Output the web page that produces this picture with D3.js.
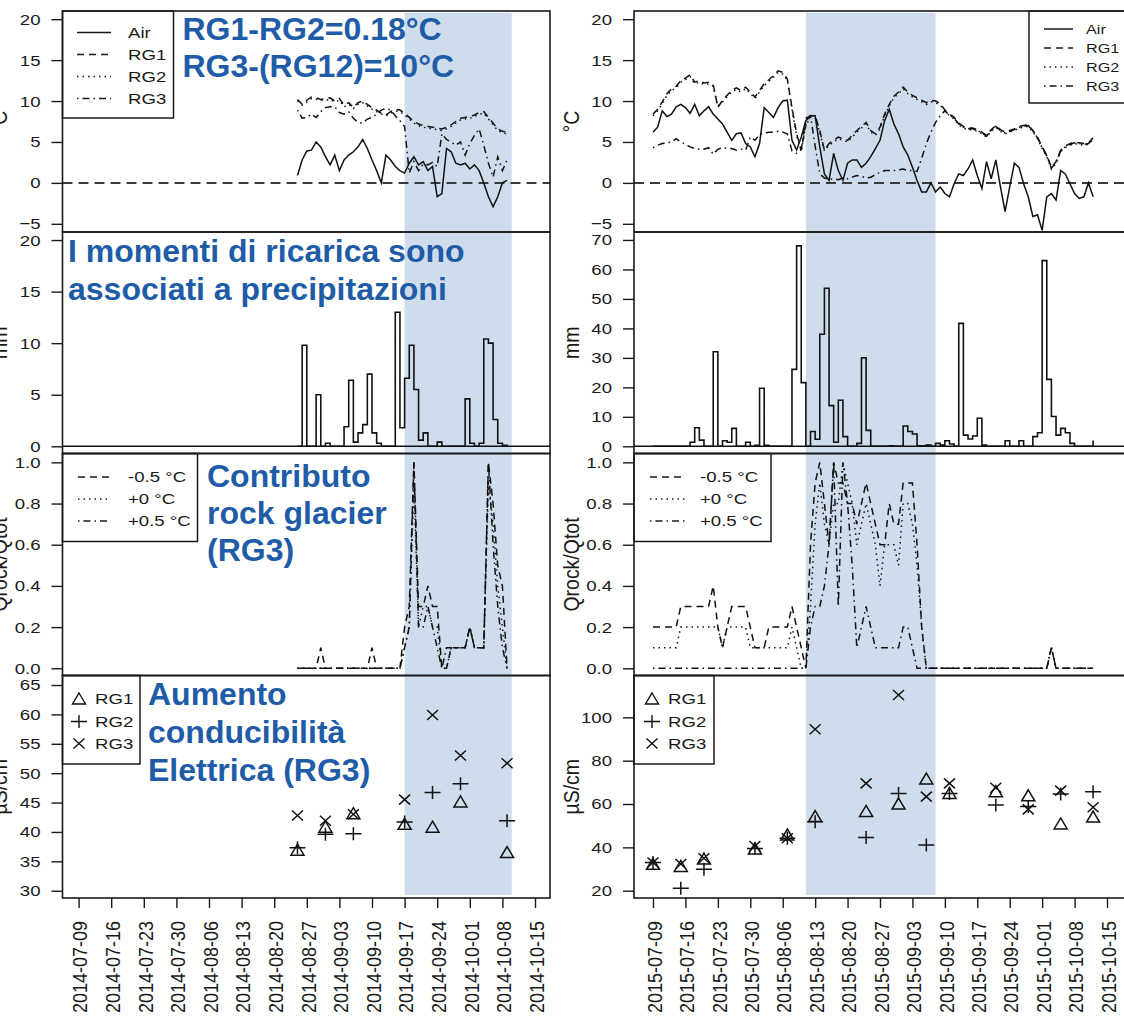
<!DOCTYPE html>
<html>
<head>
<meta charset="utf-8">
<script src="https://cdn.jsdelivr.net/npm/d3@7"></script>
<style>
  body { margin: 0; background: #fff; }
  svg { display: block; font-family: "Liberation Sans", Arial, sans-serif; }
</style>
</head>
<body>
<div id="chart"></div>
<script>
// ---------------- data ----------------
const xTicks2014 = ['2014-07-09', '2014-07-16', '2014-07-23', '2014-07-30', '2014-08-06', '2014-08-13', '2014-08-20',
  '2014-08-27', '2014-09-03', '2014-09-10', '2014-09-17', '2014-09-24', '2014-10-01', '2014-10-08', '2014-10-15'];
const xTicks2015 = ['2015-07-09', '2015-07-16', '2015-07-23', '2015-07-30', '2015-08-06', '2015-08-13', '2015-08-20',
  '2015-08-27', '2015-09-03', '2015-09-10', '2015-09-17', '2015-09-24', '2015-10-01', '2015-10-08', '2015-10-15'];

// daily series start dates
const start2014 = '2014-08-25';
const start2015 = '2015-07-09';

// shaded recharge period
const shade2014 = ['2014-09-17', '2014-10-10'];
const shade2015 = ['2015-08-11', '2015-09-08'];

// temperature, °C
const air2014 = [0.9, 2.8, 3.9, 4.0, 5.0, 4.4, 3.2, 2.2, 3.4, 1.5,
  2.8, 3.4, 3.8, 4.4, 5.3, 4.2, 2.8, 1.5, 0.0, 3.4,
  2.8, 2.0, 1.5, 1.2, 2.4, 3.2, 2.2, 2.6, 1.5, 2.0,
  -1.7, -1.3, 4.2, 3.8, 2.4, 2.2, 2.4, 1.7, 2.2, 1.5,
  0.0, -1.7, -2.9, -1.7, 0.0, 0.3];
const rg1T2014 = [10.2, 9.6, 10.1, 10.5, 10.4, 10.2, 10.3, 10.4, 10.0, 10.3,
  9.5, 9.8, 9.2, 9.8, 10.0, 9.6, 9.2, 8.9, 8.5, 8.3,
  8.7, 9.0, 8.9, 8.5, 8.0, 7.5, 7.2, 7.0, 6.9, 6.8,
  6.7, 6.6, 6.8, 7.1, 7.5, 7.9, 8.0, 8.1, 8.3, 8.6,
  8.7, 8.0, 7.3, 6.6, 6.3, 6.2];
const rg2T2014 = [10.0, 9.5, 9.9, 10.3, 10.2, 10.1, 10.1, 10.2, 9.9, 10.1,
  9.3, 9.6, 9.1, 9.6, 9.8, 9.4, 9.0, 8.7, 8.4, 8.2,
  8.5, 8.8, 8.7, 8.3, 7.8, 7.3, 7.0, 6.8, 6.7, 6.6,
  6.5, 6.4, 6.6, 6.9, 7.3, 7.7, 7.8, 7.9, 8.1, 8.4,
  8.5, 7.8, 7.1, 6.4, 6.1, 6.0];
const rg3T2014 = [8.9, 7.9, 8.0, 8.4, 8.0, 8.7, 9.2, 9.3, 9.3, 8.6,
  8.4, 8.7, 7.9, 7.4, 7.3, 7.8, 8.0, 8.4, 8.9, 9.1,
  8.9, 8.2, 7.6, 6.9, 1.2, 2.6, 1.5, 2.3, 2.2, 2.5,
  2.0, 6.0, 5.3, 5.0, 4.6, 5.0, 3.4, 4.8, 5.8, 6.6,
  4.6, 2.4, 0.7, 3.2, 1.5, 2.8];

const air2015 = [6.2, 6.8, 8.8, 8.1, 8.4, 9.3, 9.6, 9.2, 8.5, 9.6,
  8.2, 8.8, 9.3, 8.4, 7.8, 7.2, 6.2, 5.2, 6.0, 6.1,
  4.8, 4.4, 3.2, 4.8, 9.2, 8.6, 8.0, 9.2, 10.0, 10.1,
  5.2, 4.0, 5.6, 7.6, 8.2, 8.2, 4.4, 1.1, 0.3, 3.6,
  1.5, 0.3, 2.4, 2.8, 2.8, 1.9, 2.4, 3.2, 4.2, 5.2,
  7.6, 9.0, 7.2, 6.0, 4.4, 3.4, 1.9, 0.3, -1.1, -1.1,
  0.0, -1.1, -0.5, -1.3, -1.7, -0.1, 1.1, 0.9, 1.7, 2.8,
  0.9, -0.7, 2.6, 0.5, 2.8, -0.5, -3.5, -0.5, 2.4, 1.9,
  -0.1, -1.7, -4.1, -3.9, -5.8, -1.7, -1.3, -2.1, 1.5, 1.1,
  -0.1, -1.3, -1.9, -1.7, 0.0, -1.7];
const rg1T2015 = [8.4, 9.0, 9.9, 10.9, 11.5, 11.8, 12.5, 12.8, 13.2, 12.3,
  12.5, 12.2, 12.3, 12.0, 9.2, 10.1, 10.7, 11.3, 11.6, 11.3,
  11.7, 11.1, 10.5, 11.3, 12.1, 12.6, 13.1, 13.7, 13.5, 12.7,
  9.2, 6.0, 4.0, 7.2, 8.2, 8.2, 6.4, 4.0, 4.8, 5.2,
  5.6, 5.4, 5.2, 5.8, 6.4, 6.9, 7.4, 6.4, 6.0, 6.8,
  8.4, 9.6, 10.6, 11.1, 11.7, 11.1, 10.7, 10.4, 10.1, 9.8,
  10.1, 10.0, 9.7, 8.9, 8.4, 8.0, 7.3, 6.9, 6.7, 6.7,
  6.5, 6.2, 5.8, 6.5, 7.0, 6.5, 6.2, 6.4, 6.6, 6.9,
  7.0, 7.1, 6.4, 5.6, 4.4, 3.4, 1.9, 2.6, 4.0, 4.5,
  4.8, 5.0, 4.9, 4.8, 4.9, 5.5];
const rg2T2015 = [8.2, 8.8, 9.7, 10.7, 11.3, 11.6, 12.3, 12.6, 13.0, 12.1,
  12.3, 12.0, 12.1, 11.8, 9.4, 9.9, 10.5, 11.1, 11.4, 11.1,
  11.5, 10.9, 10.3, 11.1, 11.9, 12.4, 12.9, 13.5, 13.3, 12.5,
  9.0, 5.8, 3.9, 7.0, 8.0, 8.0, 6.2, 3.9, 4.6, 5.0,
  5.4, 5.2, 5.0, 5.6, 6.2, 6.7, 7.2, 6.2, 5.8, 6.6,
  8.2, 9.4, 10.4, 10.9, 11.5, 10.9, 10.5, 10.2, 9.9, 9.6,
  9.9, 9.8, 9.5, 8.8, 8.2, 7.8, 7.1, 6.7, 6.5, 6.5,
  6.3, 6.0, 5.6, 6.3, 6.8, 6.3, 6.0, 6.2, 6.4, 6.7,
  6.8, 6.9, 6.2, 5.4, 4.2, 3.2, 1.7, 2.4, 3.8, 4.3,
  4.6, 4.8, 4.7, 4.6, 4.7, 5.3];
const rg3T2015 = [4.3, 4.6, 4.8, 4.9, 5.0, 5.4, 5.0, 4.7, 4.4, 4.2,
  4.1, 4.1, 4.3, 3.5, 4.1, 4.3, 4.2, 4.2, 4.0, 4.1,
  4.0, 5.6, 5.2, 5.9, 6.1, 6.2, 6.2, 6.3, 6.2, 6.0,
  3.9, 3.6, 4.1, 7.9, 8.2, 4.5, 1.1, 0.6, 0.4, 0.5,
  0.4, 0.6, 0.5, 0.7, 0.9, 0.8, 0.6, 0.7, 1.0, 1.3,
  1.5, 1.5, 1.5, 1.6, 1.7, 1.5, 1.5, 1.4, 3.0, 4.8,
  6.2, 7.4, 8.2, 8.8, 8.3, 7.9, 7.2, 6.8, 6.6, 6.6,
  6.4, 6.1, 5.7, 6.4, 6.9, 6.4, 6.1, 6.3, 6.5, 6.8,
  6.9, 7.0, 6.3, 5.5, 4.3, 3.3, 1.8, 2.5, 3.9, 4.4,
  4.7, 4.9, 4.8, 4.7, 4.8, 5.4];

// precipitation, mm
const rain2014 = [0, 9.8, 0, 0, 5.0, 0, 0.3, 0, 0, 0,
  1.9, 6.4, 0.4, 1.3, 2.1, 7.0, 1.3, 0.3, 0, 0,
  0, 13.0, 1.8, 6.6, 9.8, 5.5, 0.6, 1.3, 0, 0,
  0.4, 0, 0, 0, 0, 0, 4.6, 0.3, 0, 0.3,
  10.4, 10.0, 2.6, 0.3, 0.1, 0];
const rain2015 = [0, 0, 0, 0, 0, 0, 0, 0, 1.4, 6.3,
  2.1, 0, 0, 32.1, 0, 1.9, 1.4, 6.1, 0, 0,
  1.4, 0, 0.3, 19.7, 0.3, 0, 0, 0, 0, 0,
  26.1, 68.0, 21.6, 0, 5.0, 2.4, 38.0, 53.6, 13.8, 1.4,
  15.6, 3.3, 0, 0, 1.0, 30.0, 5.4, 0, 0, 0,
  0, 0.2, 0, 0, 6.9, 5.0, 4.2, 0.2, 0.2, 0.4,
  0, 1.0, 0.4, 1.9, 0.8, 0, 41.7, 3.8, 2.5, 3.5,
  9.5, 0.4, 0, 0, 0, 0, 1.9, 0, 0, 1.9,
  0, 0, 3.3, 4.6, 63.0, 22.7, 10.1, 3.8, 6.1, 4.6,
  1.0, 0, 0, 0, 0, 2.0];

// Qrock/Qtot for the three temperature thresholds
const qMinus2014 = [0, 0, 0, 0, 0, 0.1, 0, 0, 0, 0,
  0, 0, 0, 0, 0, 0, 0.1, 0, 0, 0,
  0, 0, 0, 0.2, 0.3, 1.0, 0.3, 0.3, 0.4, 0.3,
  0.3, 0, 0, 0.1, 0.1, 0.1, 0.1, 0.2, 0.1, 0.1,
  0.1, 1.0, 0.8, 0.5, 0.4, 0];
const qZero2014 = [0, 0, 0, 0, 0, 0, 0, 0, 0, 0,
  0, 0, 0, 0, 0, 0, 0, 0, 0, 0,
  0, 0, 0, 0.1, 0.2, 0.9, 0.2, 0.3, 0.3, 0.2,
  0.2, 0, 0, 0.1, 0.1, 0.1, 0.1, 0.2, 0.1, 0.1,
  0.1, 0.9, 0.7, 0.4, 0.2, 0];
const qPlus2014 = [0, 0, 0, 0, 0, 0, 0, 0, 0, 0,
  0, 0, 0, 0, 0, 0, 0, 0, 0, 0,
  0, 0, 0, 0.1, 0.2, 1.0, 0.2, 0.2, 0.3, 0.2,
  0.1, 0, 0.1, 0.1, 0.1, 0.1, 0.1, 0.2, 0.1, 0.1,
  0.1, 1.0, 0.6, 0.3, 0.1, 0];

const qMinus2015 = [0.2, 0.2, 0.2, 0.2, 0.2, 0.2, 0.3, 0.3, 0.3, 0.3,
  0.3, 0.3, 0.3, 0.4, 0.2, 0.1, 0.2, 0.3, 0.3, 0.3,
  0.3, 0.2, 0.1, 0.1, 0.1, 0.2, 0.2, 0.2, 0.2, 0.2,
  0.3, 0.2, 0.1, 0.0, 0.6, 0.9, 1.0, 0.8, 0.6, 1.0,
  0.9, 0.9, 0.8, 0.8, 0.7, 0.8, 0.9, 0.8, 0.7, 0.6,
  0.6, 0.8, 0.7, 0.7, 0.9, 0.9, 0.9, 0.6, 0.2, 0,
  0, 0, 0, 0, 0, 0, 0, 0, 0, 0,
  0, 0, 0, 0, 0, 0, 0, 0, 0, 0,
  0, 0, 0, 0, 0, 0, 0.1, 0, 0, 0,
  0, 0, 0, 0, 0, 0];
const qZero2015 = [0.1, 0.1, 0.1, 0.1, 0.1, 0.1, 0.2, 0.2, 0.2, 0.2,
  0.2, 0.2, 0.2, 0.2, 0.2, 0.1, 0.2, 0.2, 0.2, 0.2,
  0.2, 0.1, 0.1, 0.1, 0.1, 0.1, 0.1, 0.1, 0.1, 0.1,
  0.2, 0.1, 0.0, 0.0, 0.3, 0.7, 0.9, 0.7, 0.6, 0.8,
  0.8, 1.0, 0.9, 0.8, 0.6, 0.7, 0.8, 0.7, 0.6, 0.4,
  0.6, 0.6, 0.6, 0.5, 0.8, 0.8, 0.7, 0.5, 0.2, 0,
  0, 0, 0, 0, 0, 0, 0, 0, 0, 0,
  0, 0, 0, 0, 0, 0, 0, 0, 0, 0,
  0, 0, 0, 0, 0, 0, 0.1, 0, 0, 0,
  0, 0, 0, 0, 0, 0];
const qPlus2015 = [0, 0, 0, 0, 0, 0, 0, 0, 0, 0,
  0, 0, 0, 0, 0, 0, 0, 0, 0, 0,
  0, 0, 0, 0, 0, 0, 0, 0, 0, 0,
  0, 0, 0, 0, 0.2, 0.3, 0.3, 0.4, 0.6, 1.0,
  0.3, 1.0, 0.8, 0.5, 0.1, 0.2, 0.3, 0.2, 0.1, 0.1,
  0.1, 0.1, 0.1, 0.1, 0.2, 0.2, 0.1, 0, 0, 0,
  0, 0, 0, 0, 0, 0, 0, 0, 0, 0,
  0, 0, 0, 0, 0, 0, 0, 0, 0, 0,
  0, 0, 0, 0, 0, 0, 0.1, 0, 0, 0,
  0, 0, 0, 0, 0, 0];

// electrical conductivity, µS/cm
const ecDates2014 = ['2014-08-25', '2014-08-31', '2014-09-06', '2014-09-17', '2014-09-23', '2014-09-29', '2014-10-09'];
const ecRG1_2014 = [36.9, 40.8, 43.1, 41.3, 40.8, 45.1, 36.5];
const ecRG2_2014 = [37.3, 39.6, 39.7, 41.7, 46.7, 48.2, 41.9];
const ecRG3_2014 = [42.8, 41.9, 43.0, 45.5, 59.9, 53.0, 51.7];

const ecDates2015 = ['2015-07-09', '2015-07-15', '2015-07-20', '2015-07-31', '2015-08-07', '2015-08-13', '2015-08-24',
  '2015-08-31', '2015-09-06', '2015-09-11', '2015-09-21', '2015-09-28', '2015-10-05', '2015-10-12'];
const ecRG1_2015 = [32.2, 31.2, 34.6, 39.2, 45.7, 54.2, 56.6, 60.0, 71.5, 64.9, 65.7, 63.8, 50.8, 54.0];
const ecRG2_2015 = [33.0, 21.1, 29.9, 39.5, 44.2, 51.8, 44.5, 64.9, 41.1, 64.9, 59.5, 58.8, 64.6, 65.7];
const ecRG3_2015 = [33.0, 32.3, 35.0, 40.6, 44.2, 94.5, 69.5, 110.3, 63.4, 69.5, 67.5, 57.5, 66.2, 58.5];

const tempLabels = ['Air', 'RG1', 'RG2', 'RG3'];
const qLabels = ['-0.5 °C', '+0 °C', '+0.5 °C'];
const ecLabels = ['RG1', 'RG2', 'RG3'];

// blue notes pasted over the figure
const notes = [
  ['RG1-RG2=0.18°C', 182.5, 39.5],
  ['RG3-(RG12)=10°C', 182.5, 76.5],
  ['I momenti di ricarica sono', 68, 262],
  ['associati a precipitazioni', 68, 300],
  ['Contributo', 207, 486.5],
  ['rock glacier', 207, 524],
  ['(RG3)', 207, 561],
  ['Aumento', 148, 705],
  ['conducibilità', 148, 743],
  ['Elettrica (RG3)', 148, 781]
];

// ---------------- layout ----------------
const WIDTH = 1124, HEIGHT = 1022;
const K = 1.2;            // the R figure is stretched sideways
const INK = '#1a1a1a';
const BLUE = '#1f5ca8';
const SHADE = '#cfdcec';
const ROWS = [[11, 232], [232, 453.5], [453.5, 675.5], [675.5, 898]];
const DASH = { solid: null, dashed: '7,5', dotted: '1.5,4', dashdot: '1.5,4,7,4' };
const TEMP_DASH = ['solid', 'dashed', 'dotted', 'dashdot'];
const Q_DASH = ['dashed', 'dotted', 'dashdot'];
const MARK = {
  tri: 'M0,-6L6.5,5L-6.5,5Z',
  plus: 'M-8,0H8M0,-6.5V6.5',
  cross: 'M-5.5,-5L5.5,5M-5.5,5L5.5,-5'
};
const EC_MARKS = ['tri', 'plus', 'cross'];

const parse = d3.utcParse('%Y-%m-%d');
const daily = (start, values) => values.map((v, i) => ({ date: d3.utcDay.offset(parse(start), i), v }));

const COLUMNS = [
  {
    left: 62.5, right: 550, tickPx: [78.6, 535], ticks: xTicks2014, start: start2014, shade: shade2014,
    temp: [air2014, rg1T2014, rg2T2014, rg3T2014],
    rain: rain2014, rainDomain: [-0.7, 20.78], rainTicks: [0, 5, 10, 15, 20],
    q: [qMinus2014, qZero2014, qPlus2014],
    ecDates: ecDates2014, ec: [ecRG1_2014, ecRG2_2014, ecRG3_2014],
    ecDomain: [28.76, 66.62], ecTicks: [30, 35, 40, 45, 50, 55, 60, 65],
    tempLegend: { x: 62.5, y: 11, w: 111, h: 107, line: [77, 111], textX: 128, rows: [32.5, 54.5, 76.5, 98.5], size: 15.5 },
    qLegend: { x: 62.5, y: 453.5, w: 135, h: 88, line: [78, 111], textX: 128, rows: [477, 499, 521], size: 15.5 },
    ecLegend: { x: 62.5, y: 675.5, w: 77.5, h: 88.5, mark: 79, textX: 95, rows: [699, 721.5, 743.5], size: 15.5 }
  },
  {
    left: 634, right: 1125, tickPx: [653, 1107], ticks: xTicks2015, start: start2015, shade: shade2015,
    temp: [air2015, rg1T2015, rg2T2015, rg3T2015],
    rain: rain2015, rainDomain: [-2.44, 72.7], rainTicks: [0, 10, 20, 30, 40, 50, 60, 70],
    q: [qMinus2015, qZero2015, qPlus2015],
    ecDates: ecDates2015, ec: [ecRG1_2015, ecRG2_2015, ecRG3_2015],
    ecDomain: [16.63, 119.3], ecTicks: [20, 40, 60, 80, 100],
    tempLegend: { x: 1029, y: 11, w: 100, h: 92, line: [1044, 1073], textX: 1086, rows: [29, 48, 67, 86], size: 13.5 },
    qLegend: { x: 634, y: 453.5, w: 137, h: 88, line: [650, 685], textX: 700, rows: [477, 499, 521], size: 15.5 },
    ecLegend: { x: 634, y: 675.5, w: 80, h: 88.5, mark: 652, textX: 668, rows: [699, 721.5, 743.5], size: 15.5 }
  }
];

const svg = d3.select('#chart').append('svg')
  .attr('width', WIDTH)
  .attr('height', HEIGHT);
const defs = svg.append('defs');

function wideText(g, x, y, str, size) {
  return g.append('text')
    .attr('transform', `translate(${x},${y}) scale(${K},1)`)
    .attr('dy', '0.35em')
    .attr('font-size', size)
    .attr('fill', INK)
    .text(str);
}

function panel(g, c, row, y, ticks, fmt, ylab, id) {
  const [y0, y1] = ROWS[row];
  defs.append('clipPath').attr('id', id).append('rect')
    .attr('x', c.left).attr('y', y0).attr('width', c.right - c.left).attr('height', y1 - y0);

  const axis = g.append('g')
    .attr('transform', `translate(${c.left},0)`)
    .call(d3.axisLeft(y).tickValues(ticks).tickFormat(fmt).tickSize(11).tickPadding(22 / K - 11));
  axis.attr('font-family', null).select('.domain').remove();
  axis.selectAll('.tick line').attr('stroke', INK).attr('stroke-width', 1.4);
  axis.selectAll('.tick text')
    .attr('font-size', 15.5)
    .attr('fill', INK)
    .attr('transform', `scale(${K},1)`);

  // y title: sits half outside the page on the left column, as in the source
  g.append('text')
    .attr('transform', `translate(${c.left - 63},${(y0 + y1) / 2}) scale(1.1,1) rotate(-90)`)
    .attr('text-anchor', 'middle')
    .attr('dy', '0.35em')
    .attr('font-size', 19.5)
    .attr('fill', INK)
    .text(ylab);

  return g.append('g').attr('clip-path', `url(#${id})`);
}

function lineLegend(g, L, labels, dashes) {
  g.append('rect')
    .attr('x', L.x).attr('y', L.y).attr('width', L.w).attr('height', L.h)
    .attr('fill', '#fff').attr('stroke', INK).attr('stroke-width', 1.5);
  labels.forEach((lab, i) => {
    g.append('line')
      .attr('x1', L.line[0]).attr('x2', L.line[1])
      .attr('y1', L.rows[i]).attr('y2', L.rows[i])
      .attr('stroke', INK).attr('stroke-width', 1.5)
      .attr('stroke-dasharray', DASH[dashes[i]]);
    wideText(g, L.textX, L.rows[i], lab, L.size);
  });
}

function drawColumn(c, ci) {
  const x = d3.scaleUtc()
    .domain([parse(c.ticks[0]), parse(c.ticks[c.ticks.length - 1])])
    .range(c.tickPx);
  const g = svg.append('g');

  // recharge period, behind everything
  const s0 = x(parse(c.shade[0])), s1 = x(parse(c.shade[1]));
  g.append('rect')
    .attr('x', s0).attr('y', 12.7)
    .attr('width', s1 - s0).attr('height', 895 - 12.7)
    .attr('fill', SHADE);

  // --- temperatures ---
  const yT = d3.scaleLinear().domain([-6, 21]).range([ROWS[0][1], ROWS[0][0]]);
  const pT = panel(g, c, 0, yT, [-5, 0, 5, 10, 15, 20], d3.format('d'), '°C', `clipT${ci}`);
  pT.append('line')
    .attr('x1', c.left).attr('x2', c.right).attr('y1', yT(0)).attr('y2', yT(0))
    .attr('stroke', '#3a3a3a').attr('stroke-width', 2).attr('stroke-dasharray', '10,6');
  const lineT = d3.line().x(d => x(d.date)).y(d => yT(d.v));
  [3, 2, 1, 0].forEach(k => {
    pT.append('path')
      .datum(daily(c.start, c.temp[k]))
      .attr('fill', 'none')
      .attr('stroke', '#111')
      .attr('stroke-width', 1.5)
      .attr('stroke-dasharray', DASH[TEMP_DASH[k]])
      .attr('d', lineT);
  });
  lineLegend(g, c.tempLegend, tempLabels, TEMP_DASH);

  // --- precipitation ---
  const yR = d3.scaleLinear().domain(c.rainDomain).range([ROWS[1][1], ROWS[1][0]]);
  const pR = panel(g, c, 1, yR, c.rainTicks, d3.format('d'), 'mm', `clipR${ci}`);
  pR.append('line')
    .attr('x1', c.left).attr('x2', c.right).attr('y1', yR(0)).attr('y2', yR(0))
    .attr('stroke', '#111').attr('stroke-width', 1.6);
  pR.append('path')
    .datum(daily(c.start, c.rain))
    .attr('fill', 'none')
    .attr('stroke', '#111')
    .attr('stroke-width', 1.6)
    .attr('d', d3.line().curve(d3.curveStepAfter).x(d => x(d.date)).y(d => yR(d.v)));

  // --- rock glacier contribution ---
  const yQ = d3.scaleLinear().domain([-0.035, 1.043]).range([ROWS[2][1], ROWS[2][0]]);
  const pQ = panel(g, c, 2, yQ, [0, 0.2, 0.4, 0.6, 0.8, 1.0], d3.format('.1f'), 'Qrock/Qtot', `clipQ${ci}`);
  const lineQ = d3.line().x(d => x(d.date)).y(d => yQ(d.v));
  c.q.forEach((vals, k) => {
    pQ.append('path')
      .datum(daily(c.start, vals))
      .attr('fill', 'none')
      .attr('stroke', '#111')
      .attr('stroke-width', 1.5)
      .attr('stroke-dasharray', DASH[Q_DASH[k]])
      .attr('d', lineQ);
  });
  lineLegend(g, c.qLegend, qLabels, Q_DASH);

  // --- conductivity ---
  const yE = d3.scaleLinear().domain(c.ecDomain).range([ROWS[3][1], ROWS[3][0]]);
  const pE = panel(g, c, 3, yE, c.ecTicks, d3.format('d'), 'µS/cm', `clipE${ci}`);
  c.ec.forEach((vals, k) => {
    pE.selectAll(null)
      .data(vals)
      .join('path')
      .attr('transform', (v, i) => `translate(${x(parse(c.ecDates[i]))},${yE(v)})`)
      .attr('d', MARK[EC_MARKS[k]])
      .attr('fill', 'none')
      .attr('stroke', '#111')
      .attr('stroke-width', 1.5);
  });
  const L = c.ecLegend;
  g.append('rect')
    .attr('x', L.x).attr('y', L.y).attr('width', L.w).attr('height', L.h)
    .attr('fill', '#fff').attr('stroke', INK).attr('stroke-width', 1.5);
  ecLabels.forEach((lab, k) => {
    g.append('path')
      .attr('transform', `translate(${L.mark},${L.rows[k]})`)
      .attr('d', MARK[EC_MARKS[k]])
      .attr('fill', 'none').attr('stroke', '#111').attr('stroke-width', 1.4);
    wideText(g, L.textX, L.rows[k], lab, L.size);
  });

  // bottom date axis
  const xa = g.append('g')
    .attr('transform', `translate(0,${ROWS[3][1]})`)
    .call(d3.axisBottom(x).tickValues(c.ticks.map(parse)).tickSize(10).tickFormat((d, i) => c.ticks[i]));
  xa.attr('font-family', null).select('.domain').remove();
  xa.selectAll('.tick line').attr('stroke', INK).attr('stroke-width', 1.4);
  xa.selectAll('.tick text')
    .attr('x', 0).attr('y', 0).attr('dy', '0.35em')
    .attr('transform', 'translate(1,23) scale(1.15,1) rotate(-90)')
    .attr('text-anchor', 'end')
    .attr('font-size', 18)
    .attr('fill', INK);

  // panel frames on top
  ROWS.forEach(([y0, y1]) => {
    g.append('rect')
      .attr('x', c.left).attr('y', y0)
      .attr('width', c.right - c.left).attr('height', y1 - y0)
      .attr('fill', 'none').attr('stroke', INK).attr('stroke-width', 1.6);
  });
}

COLUMNS.forEach(drawColumn);

// notes
svg.append('g')
  .selectAll('text')
  .data(notes)
  .join('text')
  .attr('x', d => d[1])
  .attr('y', d => d[2])
  .attr('font-size', 32)
  .attr('font-weight', 'bold')
  .attr('fill', BLUE)
  .text(d => d[0]);
</script>
</body>
</html>
